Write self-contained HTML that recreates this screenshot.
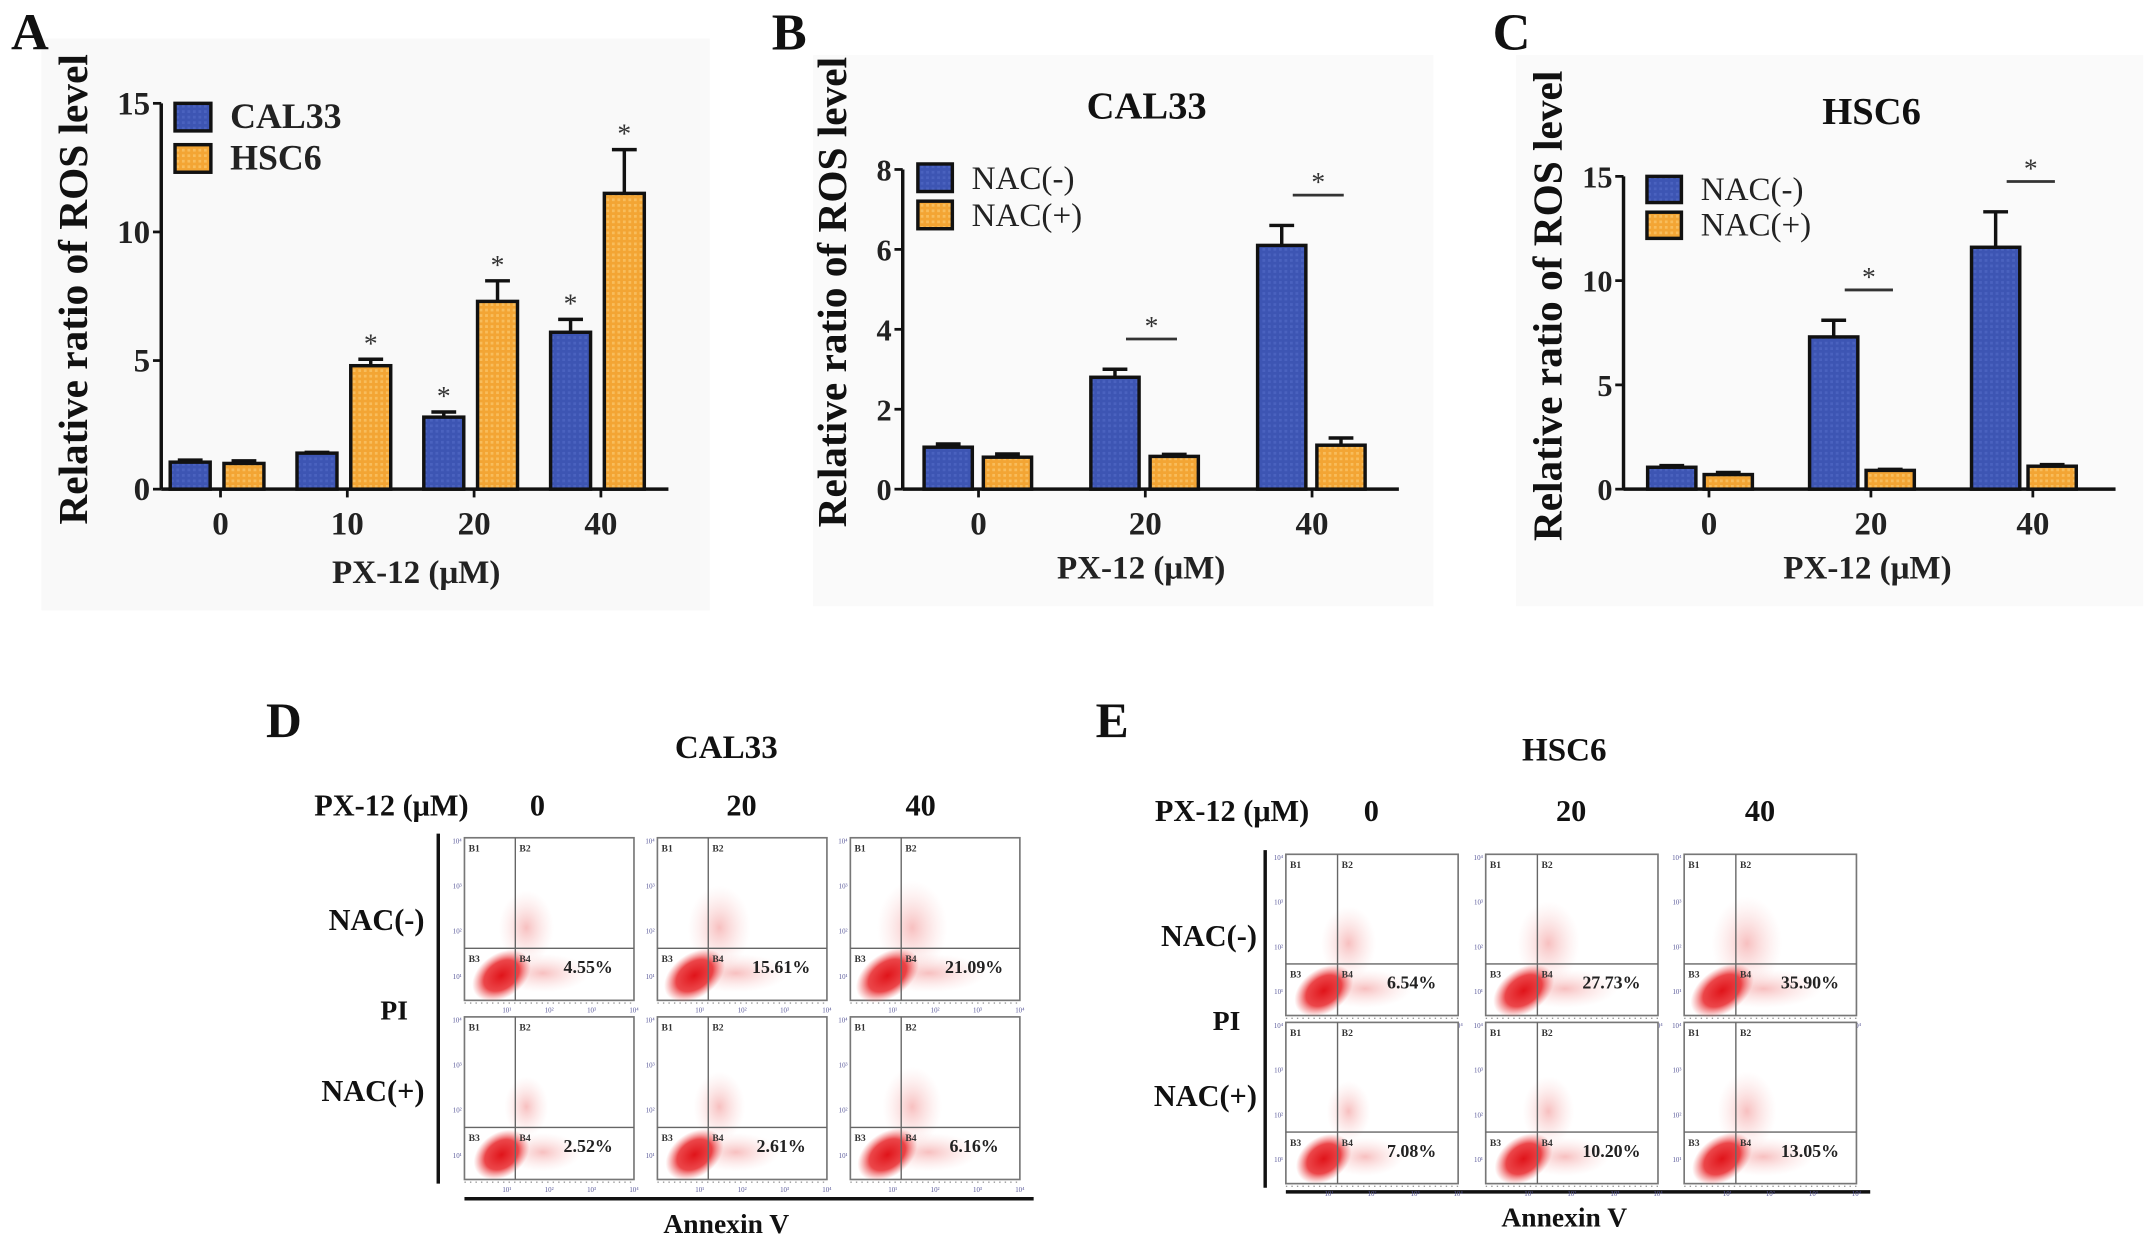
<!DOCTYPE html>
<html><head><meta charset="utf-8"><style>
html,body{margin:0;padding:0;background:#fff;}
svg{display:block;font-family:"Liberation Serif",serif;}
</style></head><body>
<svg id="fig" width="2150" height="1247" viewBox="0 0 1560 905" preserveAspectRatio="none" xmlns="http://www.w3.org/2000/svg">
<defs>
<pattern id="pb" width="4" height="4" patternUnits="userSpaceOnUse"><rect width="4" height="4" fill="#3d55b3"/><rect width="2" height="2" fill="#4a62bf"/></pattern>
<pattern id="po" width="4" height="4" patternUnits="userSpaceOnUse"><rect width="4" height="4" fill="#f3a534"/><rect width="2" height="2" fill="#f8bd5c"/></pattern>
<radialGradient id="blob"><stop offset="0" stop-color="#e0141a"/><stop offset="0.6" stop-color="#e8262a" stop-opacity="0.85"/><stop offset="1" stop-color="#f06060" stop-opacity="0"/></radialGradient>
<radialGradient id="haze"><stop offset="0" stop-color="#f08080" stop-opacity="0.5"/><stop offset="1" stop-color="#f8c0c0" stop-opacity="0"/></radialGradient>
</defs>
<rect x="30" y="28" width="485" height="415" fill="#f9f9f9"/>
<rect x="590" y="40" width="450" height="400" fill="#fafafa"/>
<rect x="1100" y="40" width="455" height="400" fill="#fafafa"/>
<g id="charts"></g>
<g id="flow"></g>
</svg>
<script>
// Panel A data
const aCats = ['0','10','20','40'];
const aCal33 = [1.05, 1.4, 2.8, 6.1];
const aCal33Err = [0.08, 0.03, 0.2, 0.5];
const aHsc6 = [1.0, 4.8, 7.3, 11.5];
const aHsc6Err = [0.1, 0.25, 0.8, 1.7];
const aTicks = [0, 5, 10, 15];
const aStarsBlue = [false, false, true, true];
const aStarsOrange = [false, true, true, true];
// Panel B data
const bCats = ['0','20','40'];
const bNacMinus = [1.05, 2.8, 6.1];
const bNacMinusErr = [0.08, 0.2, 0.5];
const bNacPlus = [0.8, 0.82, 1.1];
const bNacPlusErr = [0.08, 0.05, 0.18];
const bTicks = [0, 2, 4, 6, 8];
const bSig = [false, true, true];
// Panel C data
const cCats = ['0','20','40'];
const cNacMinus = [1.05, 7.3, 11.6];
const cNacMinusErr = [0.08, 0.8, 1.7];
const cNacPlus = [0.7, 0.9, 1.1];
const cNacPlusErr = [0.1, 0.05, 0.08];
const cTicks = [0, 5, 10, 15];
const cSig = [false, true, true];
// Flow cytometry percentages
const dPercents = ['4.55%','15.61%','21.09%','2.52%','2.61%','6.16%'];
const ePercents = ['6.54%','27.73%','35.90%','7.08%','10.20%','13.05%'];

const NS='http://www.w3.org/2000/svg';
function mk(tag, attrs, parent, text){
  const e=document.createElementNS(NS,tag);
  for(const k in attrs) e.setAttribute(k,attrs[k]);
  if(text!==undefined) e.textContent=text;
  parent.appendChild(e); return e;
}
const charts=document.getElementById('charts');

function chart(p, cats, s1, e1, s2, e2, ticks, opts){
  const g=mk('g',{},charts);
  
  
  const ymax=ticks[ticks.length-1];
  const y=v=>p.y0-(v/ymax)*(p.y0-p.yTop);
  const x=i=>p.x0+p.off+i*p.step;
  const ya=mk('line',{x1:p.x0,y1:p.yTop,x2:p.x0,y2:p.y0,stroke:'#111','stroke-width':2.5},g);
  
  
  const xa=mk('line',{x1:p.x0,y1:p.y0,x2:p.x1,y2:p.y0,stroke:'#111','stroke-width':2.5},g);
  
  
  ticks.forEach(t=>{
    mk('line',{x1:p.x0-6,y1:y(t),x2:p.x0,y2:y(t),stroke:'#111','stroke-width':2},g);
    const tl=mk('text',{x:p.x0-8,y:y(t)+8,'text-anchor':'end','font-size':p.tfs,'font-weight':'bold',fill:'#222'},g,String(t));
    
    
  });
  cats.forEach((c,i)=>{
    mk('line',{x1:x(i),y1:p.y0,x2:x(i),y2:p.y0+6,stroke:'#111','stroke-width':2},g);
    const tl=mk('text',{x:x(i),y:p.y0+33,'text-anchor':'middle','font-size':24,'font-weight':'bold',fill:'#222'},g,c);
    
    
    [[s1,e1,'url(#pb)',p.o1],[s2,e2,'url(#po)',p.o2]].forEach(([s,e,f,o],k)=>{
      const cx=x(i)+o, top=y(s[i]), et=y(s[i]+e[i]);
      mk('line',{x1:cx,y1:top,x2:cx,y2:et,stroke:'#111','stroke-width':2.5},g);
      mk('line',{x1:cx-9,y1:et,x2:cx+9,y2:et,stroke:'#111','stroke-width':2.5},g);
      const r=mk('rect',{x:cx-p.bw/2,y:top,width:p.bw,height:p.y0-top,fill:f,stroke:'#111','stroke-width':2.5},g);
      
      
      if(opts.stars && opts.stars[k][i]){
        mk('text',{x:cx,y:et-5,'text-anchor':'middle','font-size':20,fill:'#333'},g,'*');
      }
    });
    if(opts.sig && opts.sig[i]){
      const ly=y(s1[i]+e1[i])-opts.sigGap;
      const lx1=x(i)+p.o1+8, lx2=x(i)+p.o2+2;
      mk('line',{x1:lx1,y1:ly,x2:lx2,y2:ly,stroke:'#333','stroke-width':2},g);
      mk('text',{x:(lx1+lx2)/2,y:ly-3,'text-anchor':'middle','font-size':20,fill:'#333'},g,'*');
    }
  });
  const yt=mk('text',{x:0,y:0,transform:`translate(${p.ytx},${p.yty}) rotate(-90)`,'text-anchor':'middle','font-size':p.ytfs,'font-weight':'bold',fill:'#111'},g,'Relative ratio of ROS level');
  
  
  const xt=mk('text',{x:p.xtx,y:p.xty,'text-anchor':'middle','font-size':24,'font-weight':'bold',fill:'#222'},g,'PX-12 (\u03bcM)');
  
  
  if(p.title){
    const tt=mk('text',{x:p.titlex,y:p.titley,'text-anchor':'middle','font-size':28,'font-weight':'bold',fill:'#111'},g,p.title);
    
    
  }
  p.legend.forEach((lab,k)=>{
    const ly=p.ly+k*p.lstep;
    const sw=mk('rect',{x:p.lx,y:ly,width:p.lw,height:p.lh,fill:k?'url(#po)':'url(#pb)',stroke:'#111','stroke-width':2.5},g);
    
    
    const lt=mk('text',{x:p.lx+p.lw+14,y:ly+p.lh-2,'font-size':p.lfs,'font-weight':p.lbold?'bold':'normal',fill:'#222'},g,lab);
    
    
  });
  const pl=mk('text',{x:p.plx,y:p.ply,'font-size':38,'font-weight':'bold',fill:'#111'},g,p.letter);
  
  
}

chart({name:'chart-a',x0:117,x1:485,y0:355,yTop:75,off:43,step:92,bw:29,o1:-22,o2:17,tfs:24,
  ytx:63,yty:210,ytfs:30,xtx:302,xty:423,legend:['CAL33','HSC6'],lx:127,ly:75,lstep:30,lw:26,lh:20,lfs:26,lbold:true,
  plx:8,ply:36,letter:'A'}, aCats,aCal33,aCal33Err,aHsc6,aHsc6Err,aTicks,{stars:[aStarsBlue,aStarsOrange]});
chart({name:'chart-b',x0:655,x1:1015,y0:355,yTop:123,off:55,step:121,bw:35,o1:-22,o2:21,tfs:22,
  ytx:614,yty:212,ytfs:30,xtx:828,xty:420,title:'CAL33',titlex:832,titley:86,legend:['NAC(-)','NAC(+)'],lx:666,ly:119,lstep:27,lw:25,lh:20,lfs:24,lbold:false,
  plx:560,ply:36,letter:'B'}, bCats,bNacMinus,bNacMinusErr,bNacPlus,bNacPlusErr,bTicks,{sig:bSig,sigGap:22});
chart({name:'chart-c',x0:1178,x1:1535,y0:355,yTop:128,off:62,step:117.5,bw:35,o1:-27,o2:14,tfs:22,
  ytx:1133,yty:222,ytfs:30,xtx:1355,xty:420,title:'HSC6',titlex:1358,titley:90,legend:['NAC(-)','NAC(+)'],lx:1195,ly:128,lstep:26,lw:25,lh:19,lfs:24,lbold:false,
  plx:1083,ply:36,letter:'C'}, cCats,cNacMinus,cNacMinusErr,cNacPlus,cNacPlusErr,cTicks,{sig:cSig,sigGap:22});

const flow=document.getElementById('flow');
function flowPanel(q){
  const g=mk('g',{},flow);
  
  
  const t=(x,y,s,str,anchor,extra)=>mk('text',Object.assign({x:x,y:y,'font-size':s,'font-weight':'bold',fill:'#111','text-anchor':anchor||'start'},extra||{}),g,str);
  const pl=t(q.lx,q.ly,36,q.letter);  
  const tt=t(q.titlex,q.titley,24,q.title,'middle');  
  const px=t(q.pxx,q.pxy,22,'PX-12 (\u03bcM)');  
  ['0','20','40'].forEach((d,i)=>{const e=t(q.doseX[i],q.pxy,22,d,'middle');  });
  const r1=t(q.rowLabX,q.rowY[0]+q.bh*0.5+8,22,'NAC(-)','end');  
  const r2=t(q.rowLabX,q.rowY[1]+q.bh*0.45+8,22,'NAC(+)','end');  
  const pi=t(q.rowLabX-12,(q.rowY[0]+q.bh+q.rowY[1])/2+8,20,'PI','end');  
  mk('line',{x1:q.vlx,y1:q.rowY[0]-3,x2:q.vlx,y2:q.rowY[1]+q.bh+3,stroke:'#111','stroke-width':2.5},g);
  mk('line',{x1:q.colX[0],y1:q.hly,x2:q.colX[2]+q.bw+10,y2:q.hly,stroke:'#111','stroke-width':2.5},g);
  const an=t(q.titlex,q.hly+25,20,'Annexin V','middle');  
  q.rowY.forEach((ry,r)=>q.colX.forEach((cx,c)=>{
    const idx=r*3+c;
    const b=mk('g',{},g);
    
    
    mk('rect',{x:cx,y:ry,width:q.bw,height:q.bh,fill:'#fff',stroke:'#777','stroke-width':1.2},b);
    const vx=cx+q.bw*0.3, hy=ry+q.bh*0.68;
    const spread=c*0.35+(r?0:0.5);
    mk('ellipse',{cx:vx+8,cy:hy-15,rx:16+spread*8,ry:22+spread*10,fill:'url(#haze)'},b);
    mk('ellipse',{cx:vx+20,cy:hy+18,rx:28+spread*12,ry:14,fill:'url(#haze)'},b);
    mk('ellipse',{cx:vx-10,cy:ry+q.bh-18,rx:22+spread*3,ry:16,fill:'url(#blob)',transform:`rotate(-35 ${vx-10} ${ry+q.bh-18})`},b);
    mk('line',{x1:vx,y1:ry,x2:vx,y2:ry+q.bh,stroke:'#666','stroke-width':1},b);
    mk('line',{x1:cx,y1:hy,x2:cx+q.bw,y2:hy,stroke:'#666','stroke-width':1},b);
    [['B1',cx+3,ry+10],['B2',vx+3,ry+10],['B3',cx+3,hy+10],['B4',vx+3,hy+10]].forEach(a=>mk('text',{x:a[1],y:a[2],'font-size':7,'font-weight':'bold',fill:'#333'},b,a[0]));
    ['10\u2074','10\u00b3','10\u00b2','10\u00b9'].forEach((s,k)=>mk('text',{x:cx-2,y:ry+4+k*q.bh/3.6,'font-size':5,fill:'#5a5a9a','text-anchor':'end'},b,s));
    for(let k=1;k<=4;k++) mk('text',{x:cx+k*q.bw/4,y:ry+q.bh+9,'font-size':5,fill:'#5a5a9a','text-anchor':'middle'},b,'10'+'\u00b9\u00b2\u00b3\u2074'[k-1]);
    mk('line',{x1:cx,y1:ry+q.bh+2,x2:cx+q.bw,y2:ry+q.bh+2,stroke:'#999','stroke-width':1,'stroke-dasharray':'1 3'},b);
    const pt=mk('text',{x:cx+q.bw*0.73,y:hy+18,'font-size':13,'font-weight':'bold',fill:'#222','text-anchor':'middle'},b,q.pcts[idx]);
    
    
  }));
}
flowPanel({name:'flow-panel-d',letter:'D',lx:193,ly:535,title:'CAL33',titlex:527,titley:550,pxx:228,pxy:592,doseX:[390,538,668],
  colX:[337,477,617],rowY:[608,738],bw:123,bh:118,rowLabX:308,vlx:318,hly:870,pcts:dPercents});
flowPanel({name:'flow-panel-e',letter:'E',lx:795,ly:535,title:'HSC6',titlex:1135,titley:552,pxx:838,pxy:596,doseX:[995,1140,1277],
  colX:[933,1078,1222],rowY:[620,742],bw:125,bh:117,rowLabX:912,vlx:918,hly:865,pcts:ePercents});
</script>
</body></html>
